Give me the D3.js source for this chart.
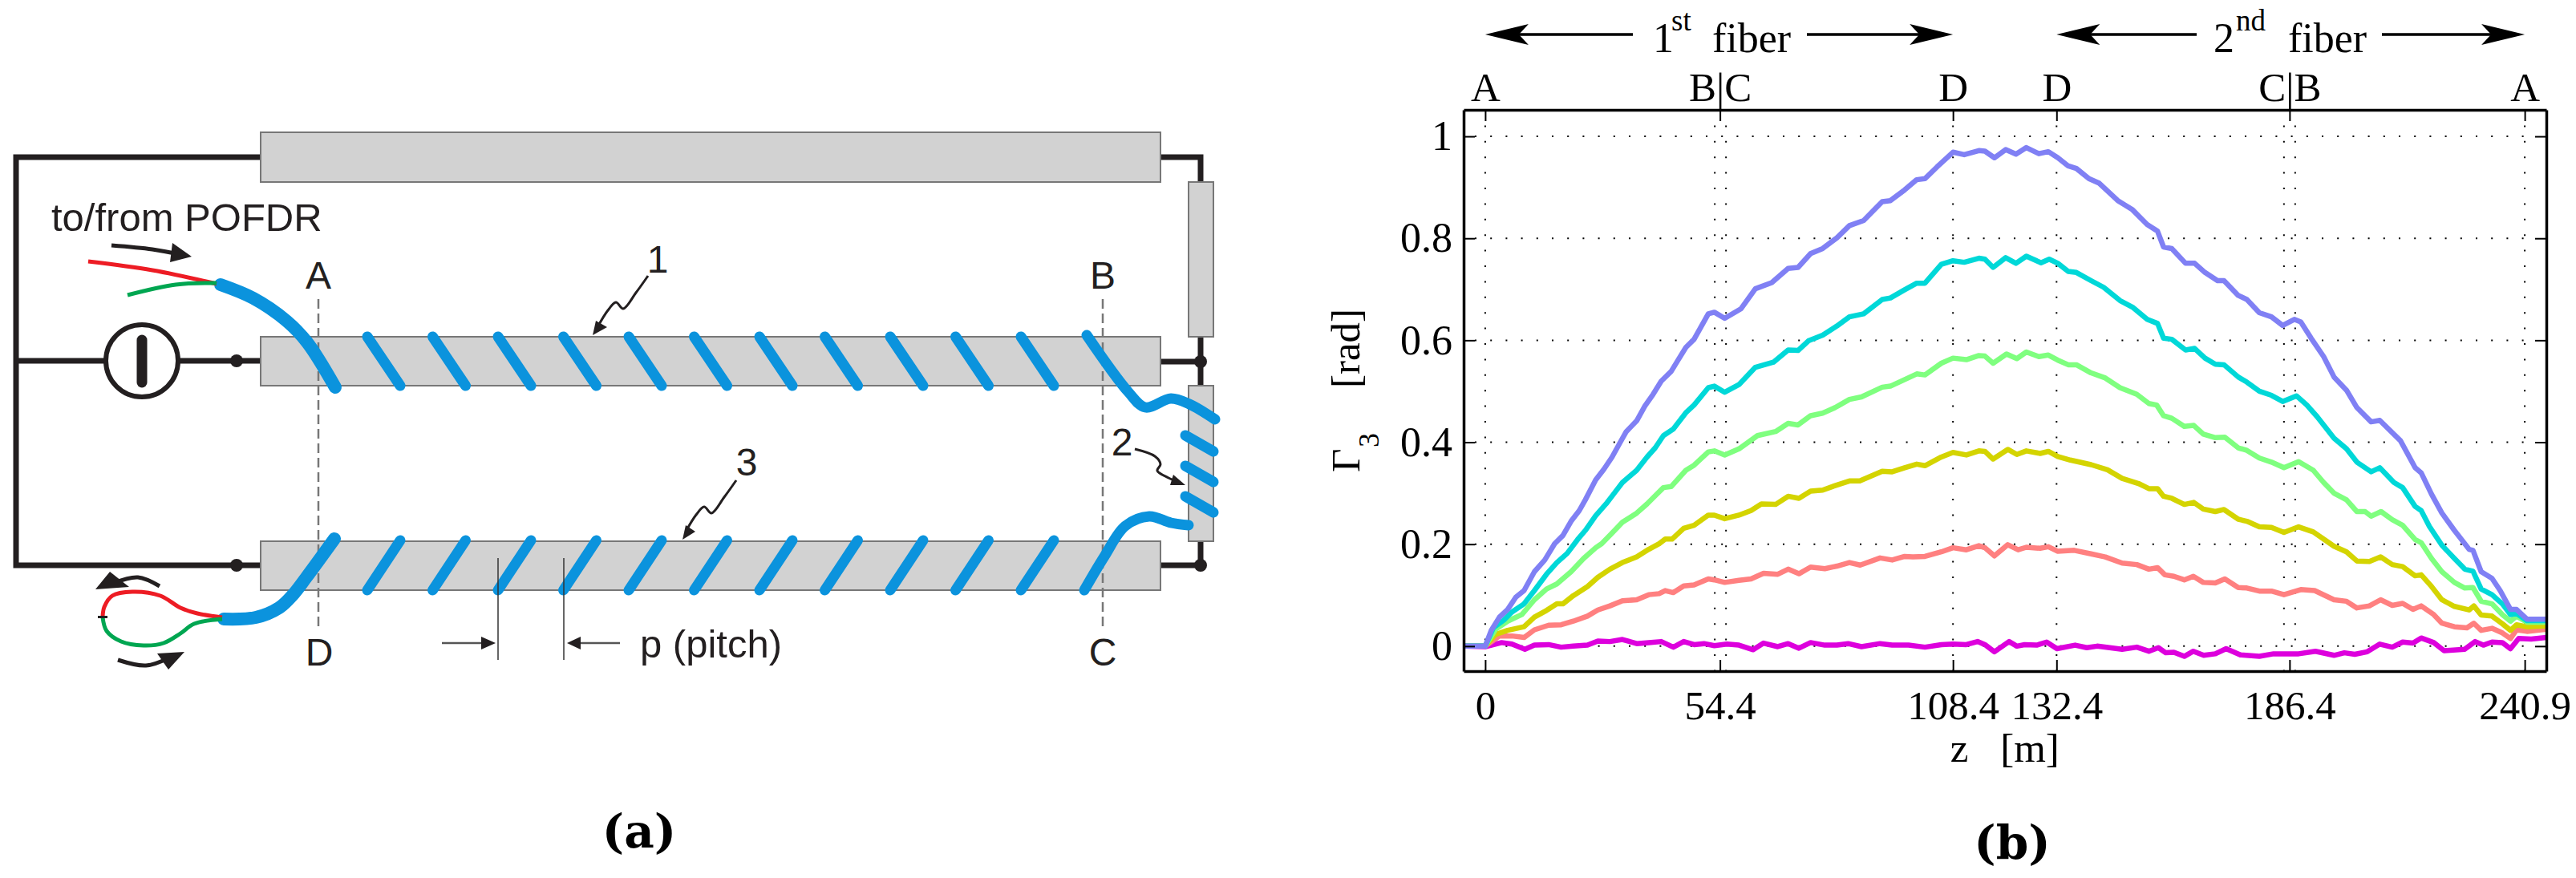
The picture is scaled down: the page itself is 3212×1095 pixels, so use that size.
<!DOCTYPE html>
<html>
<head>
<meta charset="utf-8">
<script src="https://cdn.jsdelivr.net/npm/d3@7"></script>
<style>
  html, body { margin: 0; background: #fff; }
  svg { display: block; }
</style>
</head>
<body>
<script>
// panel (b) data: [z in m, Gamma3 in rad]
const blue = [[-5,0],[0,0],[1.4,.031],[3.3,.057],[5.2,.072],[7.1,.096],[9,.109],[11.4,.146],[13.8,.169],[16.1,.201],[18,.217],[19.9,.245],[21.8,.266],[23.2,.287],[25.6,.326],[27.5,.347],[29.4,.371],[31.3,.4],[32.7,.421],[35.1,.442],[37,.471],[38.9,.494],[40.8,.52],[43.1,.539],[44.6,.56],[46.5,.586],[48.4,.602],[51.7,.652],[53.1,.655],[55.5,.643],[59.3,.662],[62.6,.701],[66.4,.713],[70.2,.741],[72.5,.743],[75.4,.77],[78.2,.78],[81.5,.801],[84.4,.825],[87.7,.835],[92,.872],[93.9,.874],[97.2,.895],[100,.915],[101.9,.917],[104.7,.94],[108.4,.969],[111,.964],[114.4,.972],[115.8,.971],[118,.958],[120.6,.974],[123,.965],[125.4,.978],[128.3,.966],[130.5,.97],[132.7,.958],[135.1,.942],[137,.937],[139.9,.917],[142.3,.908],[146.6,.874],[150,.856],[153.4,.827],[155.8,.814],[157.2,.783],[159.1,.78],[162.3,.751],[164.4,.751],[166.8,.733],[169.7,.717],[171.2,.717],[174.5,.688],[176.5,.68],[179.4,.654],[182.2,.646],[184.8,.629],[187.5,.641],[189,.636],[191.4,.604],[194.3,.568],[196.7,.528],[199.6,.502],[202,.468],[205.3,.44],[207.3,.443],[212.1,.403],[215.5,.35],[216.9,.34],[219.3,.298],[221.7,.261],[224.6,.227],[228,.19],[228.9,.188],[230.8,.146],[233.3,.133],[235.2,.109],[237.6,.072],[239,.072],[241.4,.053],[245.9,.053]]
const cyan = [[-5,0],[0,0],[1.9,.036],[4.3,.051],[6.2,.067],[9,.083],[11.4,.109],[14.2,.141],[16.6,.164],[19,.182],[21.4,.209],[23.2,.227],[25.6,.256],[28,.279],[29.9,.3],[31.8,.321],[35.1,.345],[37.5,.371],[39.4,.389],[41.3,.413],[43.6,.426],[46.5,.458],[48.4,.473],[51.7,.507],[53.1,.51],[55.5,.498],[58.8,.513],[62.6,.547],[66.8,.557],[70.2,.581],[72.5,.58],[74.9,.599],[78.2,.61],[81.5,.628],[84.4,.646],[87.7,.652],[92,.68],[93.9,.683],[97.2,.699],[100,.712],[101.9,.712],[105.7,.749],[108.4,.756],[111,.753],[114.4,.761],[115.8,.759],[117.7,.743],[120.6,.762],[123,.751],[125.4,.765],[128.8,.752],[130.7,.759],[132.7,.751],[135.1,.735],[137,.733],[140.4,.717],[143.3,.704],[147.1,.678],[150,.665],[153.4,.641],[155.8,.633],[157.2,.604],[159.1,.602],[162.3,.581],[164.4,.584],[166.8,.565],[169.2,.553],[171.2,.552],[174.5,.528],[176.5,.518],[179.4,.5],[182.2,.492],[184.8,.48],[188,.491],[190.4,.473],[192.8,.45],[196.7,.408],[199.6,.387],[202,.361],[205.3,.342],[207.3,.35],[210.6,.321],[212.6,.311],[215.5,.274],[216.9,.266],[218.8,.235],[221.7,.198],[224.6,.172],[227,.151],[228.9,.147],[230.8,.112],[233.3,.101],[235.7,.083],[237.6,.062],[239,.064],[241.4,.05],[245.9,.05]]
const green = [[-5,0],[0,0],[2.4,.033],[5.2,.049],[8.5,.062],[11.4,.091],[14.2,.112],[16.6,.122],[19.9,.146],[22.8,.172],[25.6,.193],[27,.201],[29.4,.222],[31.8,.243],[35.1,.261],[37.5,.279],[39.4,.295],[41.3,.311],[43.1,.313],[46.5,.345],[48.4,.355],[51.7,.381],[53.1,.383],[55.5,.375],[58.8,.387],[63.1,.413],[67.3,.421],[70.2,.437],[72.5,.434],[75.4,.452],[78.2,.457],[81.1,.468],[84.4,.484],[87.2,.489],[92,.508],[93.9,.51],[97.2,.523],[100,.534],[101.9,.532],[105.7,.555],[108.4,.565],[111.5,.562],[114.4,.57],[115.8,.569],[117.7,.555],[120.8,.573],[123.2,.564],[125.4,.577],[128.3,.568],[130.5,.571],[132.7,.561],[135.1,.552],[137,.552],[140.4,.536],[143.7,.526],[147.1,.507],[151,.494],[153.8,.476],[155.6,.473],[157.2,.452],[159.1,.447],[162,.431],[164.2,.433],[166.4,.416],[169.2,.409],[171.4,.41],[174.5,.389],[176.5,.384],[179.4,.369],[182.2,.361],[185.1,.35],[188.5,.362],[191.9,.345],[194.3,.321],[196.7,.3],[199.6,.287],[202,.264],[203.9,.264],[205.3,.255],[207.6,.264],[210.2,.248],[212.6,.237],[215.5,.209],[216.9,.203],[219.3,.172],[221.7,.146],[224.6,.125],[227,.114],[228.9,.115],[230.8,.088],[233.3,.083],[235.7,.062],[237.6,.049],[239,.059],[241.4,.047],[245.9,.047]]
const yellow = [[-5,0],[0,0],[2.4,.023],[5.2,.031],[9,.038],[11.4,.057],[14.2,.07],[16.6,.083],[18,.083],[20.4,.099],[23.7,.117],[26.1,.135],[28.9,.151],[31.8,.164],[35.1,.175],[37.9,.19],[40.3,.201],[41.7,.21],[43.3,.21],[46,.231],[48.4,.237],[51.7,.257],[53.1,.257],[55.5,.25],[58.8,.257],[61.6,.266],[64,.279],[67.3,.278],[70.2,.294],[72.7,.29],[75.4,.304],[78.2,.306],[81.1,.315],[84.4,.324],[86.8,.324],[92,.343],[94.3,.342],[97.2,.35],[100,.357],[101.9,.354],[105.7,.371],[108.4,.38],[111.5,.375],[114.4,.383],[115.8,.382],[117.7,.367],[121.1,.386],[123.2,.376],[125.4,.383],[128.6,.378],[130.5,.382],[132.7,.372],[135.6,.365],[140.4,.356],[144.2,.346],[147.6,.329],[151.4,.319],[153.8,.309],[155.8,.309],[157.2,.294],[159.1,.29],[162,.278],[164.2,.282],[166.4,.269],[169.2,.264],[171.2,.268],[174.5,.249],[176.5,.245],[179.4,.234],[182.2,.233],[185.1,.223],[188.5,.234],[191.9,.224],[196.7,.196],[199.6,.185],[202,.167],[204.9,.166],[207.5,.175],[210.2,.16],[212.6,.156],[215.5,.138],[216.9,.14],[219.3,.117],[221.7,.091],[224.6,.078],[228,.071],[229.1,.079],[230.8,.061],[233.3,.059],[235.7,.044],[237.6,.031],[239,.042],[241.4,.038],[245.9,.04]]
const salmon = [[-5,0],[0,0],[3.3,.02],[6.2,.02],[9,.017],[11.4,.032],[14.7,.041],[17.6,.042],[20.4,.049],[23.7,.059],[26.1,.071],[28.9,.079],[31.8,.089],[35.1,.091],[37.9,.101],[40.3,.103],[41.7,.109],[43.6,.105],[46,.118],[48.4,.12],[51.7,.132],[53.1,.13],[55.5,.125],[58.8,.129],[61.6,.132],[64.5,.143],[67.8,.141],[70.2,.151],[72.7,.142],[75.4,.155],[78.7,.152],[81.5,.157],[84.4,.164],[86.9,.159],[91.5,.173],[94.3,.169],[97.2,.176],[99.1,.175],[101.9,.176],[105.7,.185],[108.4,.193],[111.5,.189],[114.4,.197],[115.8,.193],[118,.177],[121.1,.199],[123.5,.189],[125.4,.194],[128.6,.192],[130.5,.195],[132.7,.186],[136.5,.188],[140.4,.181],[143.7,.175],[147.6,.163],[151,.16],[153.8,.151],[155.8,.154],[157.5,.14],[159.6,.137],[162,.13],[164.1,.137],[166.4,.125],[169.2,.124],[171.4,.132],[174.5,.115],[176.5,.114],[179.4,.108],[182.2,.108],[185.1,.101],[189,.111],[192.2,.109],[196.7,.091],[199.6,.088],[202,.075],[204.9,.079],[207.5,.091],[210.2,.08],[212.6,.084],[215,.072],[216.9,.079],[219.8,.062],[221.7,.045],[224.6,.038],[227.5,.036],[229.1,.045],[230.8,.031],[233.3,.035],[235.7,.026],[237.6,.015],[239,.032],[241.4,.029],[245.9,.033]]
const magenta = [[-5,0],[0,-.001],[3.8,.007],[6.2,.004],[9.2,-.006],[11.4,.002],[14.7,.003],[17.6,-.002],[20.4,0],[23.7,.002],[26.1,.01],[28.9,.009],[31.8,.013],[35.1,.005],[37.9,.007],[40.8,.009],[43.6,-.002],[46,.009],[48.4,.003],[50.7,.005],[53.1,.001],[56,.004],[58.8,.002],[62.1,-.007],[64.5,.006],[67.8,-.001],[70.2,.005],[72.7,-.004],[75.4,.007],[78.7,.002],[81.5,.002],[84.1,.005],[87.2,-.001],[91.5,.005],[94.3,.002],[98.1,.002],[101.9,-.002],[105.7,.003],[108.4,.004],[111.5,.003],[114.1,.009],[115.8,.003],[118,-.011],[121.4,.009],[123.2,0],[125,.003],[127.8,.002],[130.1,.008],[132.5,-.005],[136.7,.002],[139.4,-.003],[141.8,0],[147.6,-.006],[151,-.002],[153.8,-.01],[156,-.003],[157.7,-.013],[159.6,-.012],[162,-.02],[164.1,-.01],[166.5,-.018],[169.2,-.015],[171.7,-.005],[175,-.017],[179.4,-.02],[182.7,-.015],[188.5,-.015],[192.4,-.01],[196.7,-.018],[199.1,-.013],[201.5,-.016],[204.4,-.011],[207.3,.004],[210.2,-.002],[212.6,.008],[215,.006],[216.9,.016],[219.8,.007],[222.2,-.009],[227,-.006],[229.4,.009],[231.3,.002],[233.3,.008],[235.7,.007],[237.6,-.005],[239.5,.015],[242.4,.014],[245.9,.017]]

const seriesList = [magenta, salmon, yellow, green, cyan, blue]
const seriesColors = ['#dd00dd', '#ff8080', '#d4d400', '#7fff7f', '#00d8d8', '#8080f4']

const xTicks = [0, 54.4, 108.4, 132.4, 186.4, 240.9]
const xTickLabels = ['0', '54.4', '108.4', '132.4', '186.4', '240.9']
const topTickLabels = ['A', 'B|C', 'D', 'D', 'C|B', 'A']
const xGrid = [0, 53.2, 55.8, 108.4, 132.4, 185.1, 187.7, 240.9]
const yTicks = [0, 0.2, 0.4, 0.6, 0.8, 1]
const yTickLabels = ['0', '0.2', '0.4', '0.6', '0.8', '1']

// panel (a) layout
const tubes = [[325, 165, 1447, 227], [325, 420, 1447, 481], [325, 675, 1447, 736], [1482, 227, 1513, 420], [1482, 481, 1513, 675]]
const coilTurns = [0, 1, 2, 3, 4, 5, 6, 7, 8, 9, 10]
const smallTurns = [0, 1, 2]
const wires = [
  [[325, 196], [20, 196], [20, 705], [325, 705]],
  [[20, 450], [325, 450]],
  [[1447, 196], [1497, 196], [1497, 227]],
  [[1497, 420], [1497, 481]],
  [[1447, 451], [1497, 451]],
  [[1497, 675], [1497, 705], [1447, 705]]
]
const dots = [[295, 450], [295, 705], [1497, 451], [1497, 705]]
const fiberIn = [[275, 355], [316, 372], [357, 400], [383, 427], [418, 483]]
const fiberOut = [[279, 772], [319, 770], [348, 758], [365, 742], [382, 720], [417, 672]]
const fiberOver = [[1355, 418], [1407, 489], [1428, 508], [1460, 497], [1483, 504], [1515, 523]]
const fiberUnder = [[1352, 736], [1377, 694], [1403, 656], [1433, 644], [1460, 652], [1482, 655]]
const redTail = [[110, 326], [190, 337], [270, 354]]
const greenTail = [[159, 368], [219, 355], [270, 353]]
const redLoop = [[277, 770], [246, 765], [225, 758], [200, 743], [165, 738], [140, 743], [130, 757], [128, 769]]
const greenLoop = [[277, 772], [242, 778], [225, 790], [204, 802], [179, 805], [151, 800], [133, 787], [128, 770]]
const squiggle = [[808, 344], [793, 365], [777, 385], [768, 377], [758, 387], [745, 408]]
const squiggle2 = [[1415, 560], [1440, 569], [1447, 579], [1443, 587], [1457, 596], [1464, 599]]

const width = 3212
const height = 1095

const mainSVG = d3.select('body').append('svg').attr('width', width).attr('height', height)

const x = d3.scaleLinear().domain([-5, 245.9]).range([1825, 3175])
const y = d3.scaleLinear().domain([-0.049, 1.052]).range([837, 137])
const turnX = d3.scaleLinear().domain([0, 1]).range([458, 539.5])

const curve = d3.line().curve(d3.curveCatmullRom)
const straight = d3.line()

function addText(str, px, py, size, font, anchor, weight) {
  return mainSVG.append('text')
    .attr('x', px)
    .attr('y', py)
    .attr('font-size', size)
    .attr('font-family', font)
    .attr('text-anchor', anchor || 'start')
    .attr('font-weight', weight || 'normal')
    .attr('fill', '#000')
    .text(str)
}

function addFiber(points, w, line) {
  mainSVG.append('path')
    .attr('d', (line || curve)(points))
    .attr('fill', 'none')
    .attr('stroke', '#0b93dd')
    .attr('stroke-width', w)
    .attr('stroke-linecap', 'round')
}

function addThin(points, color, w) {
  mainSVG.append('path')
    .attr('d', curve(points))
    .attr('fill', 'none')
    .attr('stroke', color)
    .attr('stroke-width', w)
}

function addHead(points) {
  mainSVG.append('path')
    .attr('d', straight(points) + 'Z')
    .attr('fill', '#231f20')
}

function createWires() {
  wires.forEach(w => {
    mainSVG.append('path')
      .attr('d', straight(w))
      .attr('fill', 'none')
      .attr('stroke', '#231f20')
      .attr('stroke-width', 7)
  })
  dots.forEach(d => {
    mainSVG.append('circle')
      .attr('cx', d[0]).attr('cy', d[1]).attr('r', 8)
      .attr('fill', '#231f20')
  })
  mainSVG.append('circle')
    .attr('cx', 177).attr('cy', 450).attr('r', 45)
    .attr('fill', '#fff')
    .attr('stroke', '#231f20')
    .attr('stroke-width', 6)
  mainSVG.append('line')
    .attr('x1', 177).attr('y1', 424).attr('x2', 177).attr('y2', 477)
    .attr('stroke', '#231f20')
    .attr('stroke-width', 13)
    .attr('stroke-linecap', 'round')
}

function createTubes() {
  mainSVG.selectAll('rect.tube').data(tubes).enter().append('rect')
    .attr('class', 'tube')
    .attr('x', d => d[0])
    .attr('y', d => d[1])
    .attr('width', d => d[2] - d[0])
    .attr('height', d => d[3] - d[1])
    .attr('fill', '#d2d2d2')
    .attr('stroke', '#777')
    .attr('stroke-width', 2)
}

function createFiber() {
  // dashed section markers stay under the fiber
  ;[397, 1375].forEach(px => {
    mainSVG.append('line')
      .attr('x1', px).attr('y1', 373).attr('x2', px).attr('y2', 782)
      .attr('stroke', '#777')
      .attr('stroke-width', 2.5)
      .attr('stroke-dasharray', '12 6')
  })
  coilTurns.forEach(i => addFiber([[turnX(i), 420], [turnX(i) + 41, 481]], 13, straight))
  coilTurns.forEach(i => addFiber([[turnX(i), 736], [turnX(i) + 41, 674]], 13, straight))
  smallTurns.forEach(i => {
    addFiber([[1478, 543 + 38 * i], [1513, 563 + 38 * i]], 13, straight)
  })
  addFiber(fiberIn, 16)
  addFiber(fiberOut, 16)
  addFiber(fiberOver, 13)
  addFiber(fiberUnder, 13)
  addThin(redTail, '#ed1c24', 5)
  addThin(greenTail, '#00a651', 5)
  addThin(redLoop, '#ed1c24', 5)
  addThin(greenLoop, '#00a651', 5)
}

function createCallouts() {
  // feed arrows near the tails
  addThin([[139, 306], [190, 311], [228, 318]], '#231f20', 5)
  addHead([[239, 320], [215, 303], [212, 327]])
  addThin([[199, 731], [172, 720], [142, 727]], '#231f20', 5)
  addHead([[119, 735], [137, 713], [161, 732]])
  addThin([[147, 823], [182, 830], [212, 820]], '#231f20', 5)
  addHead([[230, 813], [196, 815], [210, 835]])
  addHead([[122, 768], [134, 768], [134, 771], [122, 771]])

  addThin(squiggle, '#231f20', 3)
  addHead([[739, 418], [743, 400], [757, 408]])
  const squiggle3 = squiggle.map(p => [p[0] + 110, p[1] + 255])
  addThin(squiggle3, '#231f20', 3)
  addHead([[851, 673], [855, 655], [867, 663]])
  addThin(squiggle2, '#231f20', 3)
  addHead([[1478, 605], [1463, 592], [1459, 605]])

  // pitch marks
  ;[621, 703].forEach(px => {
    mainSVG.append('line')
      .attr('x1', px).attr('y1', 696).attr('x2', px).attr('y2', 823)
      .attr('stroke', '#333').attr('stroke-width', 1.5)
  })
  mainSVG.append('line').attr('x1', 551).attr('y1', 802).attr('x2', 600).attr('y2', 802).attr('stroke', '#555').attr('stroke-width', 2.5)
  mainSVG.append('line').attr('x1', 724).attr('y1', 802).attr('x2', 773).attr('y2', 802).attr('stroke', '#555').attr('stroke-width', 2.5)
  addHead([[618, 802], [600, 794], [600, 810]])
  addHead([[707, 802], [724, 794], [724, 810]])
}

function createDiagramText() {
  const sans = '"Liberation Sans", Arial, sans-serif'
  addText('to/from POFDR', 64, 288, 49, sans).attr('fill', '#231f20')
  addText('A', 397, 360, 48, sans, 'middle').attr('fill', '#231f20')
  addText('B', 1375, 360, 48, sans, 'middle').attr('fill', '#231f20')
  addText('D', 398, 830, 48, sans, 'middle').attr('fill', '#231f20')
  addText('C', 1375, 830, 48, sans, 'middle').attr('fill', '#231f20')
  addText('1', 820, 340, 48, sans, 'middle').attr('fill', '#231f20')
  addText('3', 931, 593, 48, sans, 'middle').attr('fill', '#231f20')
  addText('2', 1399, 568, 48, sans, 'middle').attr('fill', '#231f20')
  addText('p (pitch)', 798, 820, 49, sans).attr('fill', '#231f20')
  addText('(a)', 797, 1057, 58, '"DejaVu Serif", serif', 'middle', 'bold')
  addText('(b)', 2509, 1071, 58, '"DejaVu Serif", serif', 'middle', 'bold')
}

function createGrid() {
  mainSVG.selectAll('line.gridx').data(xGrid).enter().append('line')
    .attr('class', 'gridx')
    .attr('x1', d => x(d)).attr('x2', d => x(d))
    .attr('y1', y.range()[1]).attr('y2', y.range()[0])
    .attr('stroke', '#000')
    .attr('stroke-width', 2)
    .attr('stroke-dasharray', '2 17.4')
  mainSVG.selectAll('line.gridy').data(yTicks).enter().append('line')
    .attr('class', 'gridy')
    .attr('x1', x.range()[0] + 14).attr('x2', x.range()[1] - 14)
    .attr('y1', d => y(d)).attr('y2', d => y(d))
    .attr('stroke', '#000')
    .attr('stroke-width', 2)
    .attr('stroke-dasharray', '2 17.2')
}

function createLines() {
  const line = d3.line().x(d => x(d[0])).y(d => y(d[1]))
  seriesList.forEach((s, i) => {
    mainSVG.append('path')
      .datum(s)
      .attr('d', line)
      .attr('fill', 'none')
      .attr('stroke', seriesColors[i])
      .attr('stroke-width', 6.5)
      .attr('stroke-linejoin', 'round')
  })
}

function styleAxis(g, size) {
  g.attr('font-family', '"Liberation Serif", "Times New Roman", serif')
    .attr('font-size', size)
  g.selectAll('.domain').attr('stroke', '#000').attr('stroke-width', 3.5)
  g.selectAll('.tick line').attr('stroke', '#000').attr('stroke-width', 2)
  g.selectAll('.tick text').attr('fill', '#000')
}

function createAxes() {
  const bottom = mainSVG.append('g').attr('transform', 'translate(0,837)')
    .call(d3.axisBottom(x).tickValues(xTicks).tickFormat((d, i) => xTickLabels[i]).tickSize(-14).tickSizeOuter(0).tickPadding(24))
  styleAxis(bottom, 51)
  const top = mainSVG.append('g').attr('transform', 'translate(0,137)')
    .call(d3.axisTop(x).tickValues(xTicks).tickFormat((d, i) => topTickLabels[i]).tickSize(-14).tickSizeOuter(0).tickPadding(11))
  styleAxis(top, 51)
  const left = mainSVG.append('g').attr('transform', 'translate(1825,0)')
    .call(d3.axisLeft(y).tickValues(yTicks).tickFormat((d, i) => yTickLabels[i]).tickSize(-14).tickSizeOuter(0).tickPadding(14))
  styleAxis(left, 52)
  const right = mainSVG.append('g').attr('transform', 'translate(3175,0)')
    .call(d3.axisRight(y).tickValues(yTicks).tickFormat('').tickSize(-14).tickSizeOuter(0))
  styleAxis(right, 52)
}

function addFiberBanner(tipL, lineL, lineR, tipR) {
  const yb = 43
  ;[[tipL, lineL, 1], [tipR, lineR, -1]].forEach(a => {
    const dir = a[2]
    mainSVG.append('line')
      .attr('x1', a[0] + dir * 40).attr('y1', yb).attr('x2', a[1]).attr('y2', yb)
      .attr('stroke', '#000').attr('stroke-width', 3.5)
    mainSVG.append('path')
      .attr('d', straight([[a[0], yb], [a[0] + dir * 54, yb - 13], [a[0] + dir * 42, yb], [a[0] + dir * 54, yb + 13]]) + 'Z')
      .attr('fill', '#000')
  })
}

function createChartText() {
  const serif = '"Liberation Serif", "Times New Roman", serif'
  addFiberBanner(x(0), 2036, 2253, x(108.4))
  addFiberBanner(x(132.4), 2739, 2970, x(240.9))
  addText('1', 2061, 65, 52, serif)
  addText('st', 2084, 38, 37, serif)
  addText('fiber', 2135, 65, 52, serif)
  addText('2', 2760, 65, 52, serif)
  addText('nd', 2788, 38, 37, serif)
  addText('fiber', 2853, 65, 52, serif)

  addText('z', 2443, 950, 51, serif, 'middle')
  addText('[m]', 2531, 950, 51, serif, 'middle')

  addText('\u0393', 0, 0, 51, serif).attr('transform', 'translate(1695,589) rotate(-90)')
  addText('3', 0, 0, 36, serif).attr('transform', 'translate(1719,558) rotate(-90)')
  addText('[rad]', 0, 0, 51, serif).attr('transform', 'translate(1695,484) rotate(-90)')
}

createWires()
createTubes()
createFiber()
createCallouts()
createDiagramText()
createGrid()
createLines()
createAxes()
createChartText()
</script>
</body>
</html>
